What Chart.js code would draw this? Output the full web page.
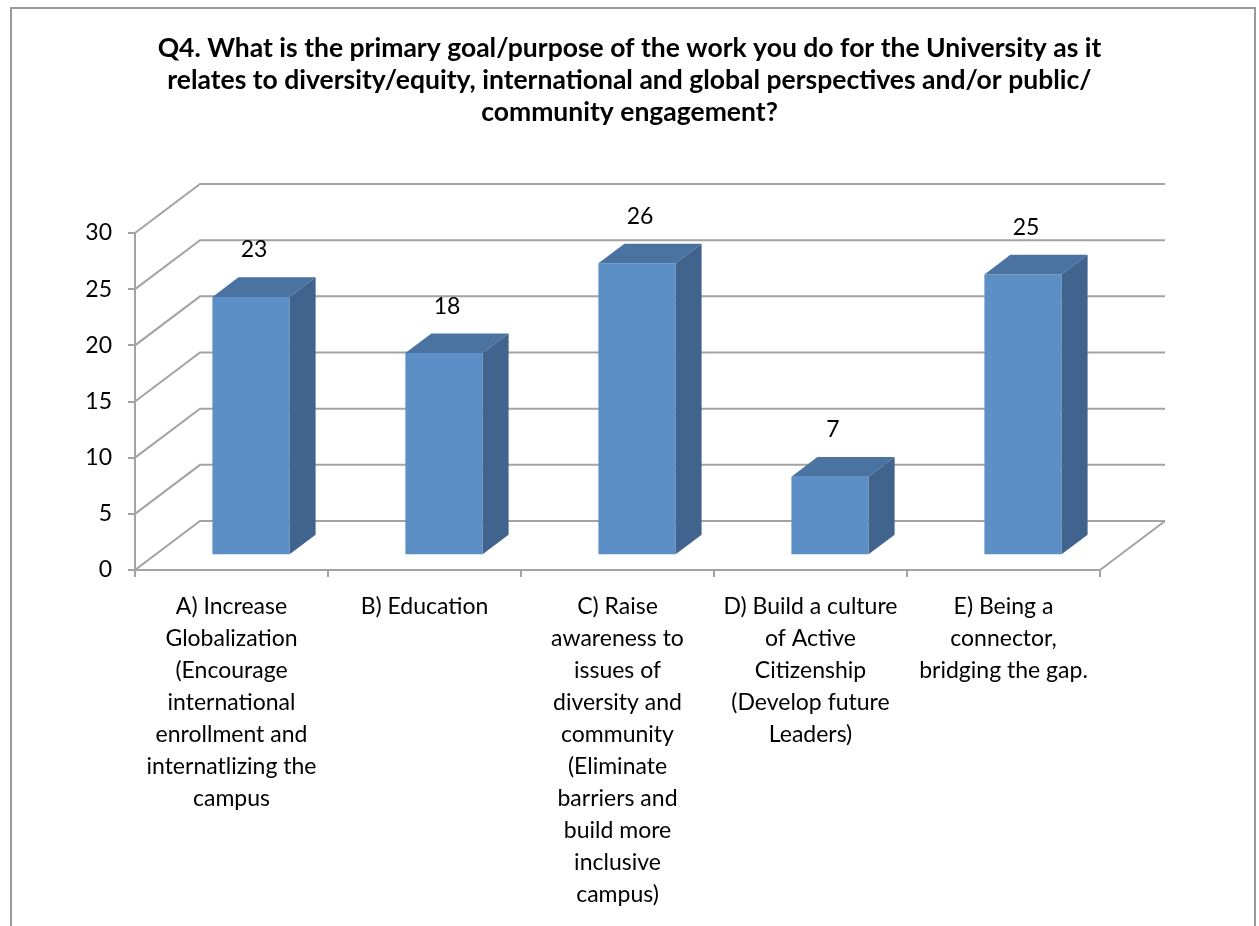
<!DOCTYPE html>
<html>
<head>
<meta charset="utf-8">
<title>Q4 primary goal/purpose</title>
<script src="https://cdn.jsdelivr.net/npm/chart.js@4/dist/chart.umd.min.js"></script>
<style>
  html, body { margin: 0; padding: 0; background: #ffffff; }
  #wrap { width: 1259px; height: 926px; position: relative; }
</style>
</head>
<body>
<div id="wrap"><canvas id="chart" width="1259" height="926"></canvas></div>
<script>
// Survey answers, one column per goal
const categories = [
  ['A) Increase', 'Globalization', '(Encourage', 'international', 'enrollment and', 'internatlizing the', 'campus'],
  ['B) Education'],
  ['C) Raise', 'awareness to', 'issues of', 'diversity and', 'community', '(Eliminate', 'barriers and', 'build more', 'inclusive', 'campus)'],
  ['D) Build a culture', 'of Active', 'Citizenship', '(Develop future', 'Leaders)'],
  ['E) Being a', 'connector,', 'bridging the gap.']
];
const responses = [23, 18, 26, 7, 25];
const yTicks = [0, 5, 10, 15, 20, 25, 30];
const titleLines = [
  'Q4. What is the primary goal/purpose of the work you do for the University as it',
  'relates to diversity/equity, international and global perspectives and/or public/',
  'community engagement?'
];

// 3D look: depth of the floor/walls, and where the columns sit inside it
const DEPTH_X = 65, DEPTH_Y = -49;
const BAR_FRONT = 0.3, BAR_DEPTH = 0.4;
const GRID_COLOR = '#a3a3a3';
const FRONT_COLOR = '#5b8fc5';
const TOP_COLOR = '#4a73a2';
const SIDE_COLOR = '#41648e';
const FONT = 'Lato, "Open Sans", "DejaVu Sans", sans-serif';

const walls = {
  id: 'walls',
  beforeDatasetsDraw(chart) {
    const { ctx, chartArea: a, scales: { y } } = chart;
    ctx.save();
    ctx.strokeStyle = GRID_COLOR;
    ctx.lineWidth = 2;
    ctx.lineCap = 'butt';
    ctx.beginPath();
    yTicks.forEach(v => {
      const py = y.getPixelForValue(v);
      // side wall diagonal
      ctx.moveTo(a.left, py);
      ctx.lineTo(a.left + DEPTH_X, py + DEPTH_Y);
      // back wall gridline
      ctx.lineTo(a.right + DEPTH_X, py + DEPTH_Y);
    });
    // floor right edge
    const base = y.getPixelForValue(0);
    ctx.moveTo(a.right, base);
    ctx.lineTo(a.right + DEPTH_X, base + DEPTH_Y);
    ctx.stroke();
    ctx.restore();

    // columns are drawn in the middle of the floor depth
    ctx.save();
    ctx.translate(DEPTH_X * BAR_FRONT, DEPTH_Y * BAR_FRONT);
  },
  afterDatasetsDraw(chart) {
    const { ctx } = chart;
    ctx.restore();
    const meta = chart.getDatasetMeta(0);
    const ox = DEPTH_X * BAR_FRONT, oy = DEPTH_Y * BAR_FRONT;
    const dx = DEPTH_X * BAR_DEPTH, dy = DEPTH_Y * BAR_DEPTH;
    ctx.save();
    meta.data.forEach((bar, i) => {
      const { x, y, base, width } = bar.getProps(['x', 'y', 'base', 'width'], true);
      const l = x - width / 2 + ox, r = x + width / 2 + ox;
      const t = y + oy, b = base + oy;
      // top face
      ctx.fillStyle = TOP_COLOR;
      ctx.beginPath();
      ctx.moveTo(l, t);
      ctx.lineTo(l + dx, t + dy);
      ctx.lineTo(r + dx, t + dy);
      ctx.lineTo(r, t);
      ctx.closePath();
      ctx.fill();
      // right side face
      ctx.fillStyle = SIDE_COLOR;
      ctx.beginPath();
      ctx.moveTo(r, t);
      ctx.lineTo(r + dx, t + dy);
      ctx.lineTo(r + dx, b + dy);
      ctx.lineTo(r, b);
      ctx.closePath();
      ctx.fill();
      // value label
      ctx.fillStyle = '#000000';
      ctx.font = '23px ' + FONT;
      ctx.textAlign = 'center';
      ctx.textBaseline = 'middle';
      ctx.fillText(String(responses[i]), x + ox + 3, t - 47);
    });
    ctx.restore();
  },
  afterDraw(chart) {
    // chart frame (open at the bottom)
    const { ctx } = chart;
    ctx.save();
    ctx.strokeStyle = '#9a9a9a';
    ctx.lineWidth = 2;
    ctx.beginPath();
    ctx.moveTo(11, 930);
    ctx.lineTo(11, 8);
    ctx.lineTo(1255, 8);
    ctx.lineTo(1255, 930);
    ctx.stroke();
    ctx.restore();
  }
};

new Chart(document.getElementById('chart'), {
  type: 'bar',
  data: {
    labels: categories,
    datasets: [{
      data: responses,
      backgroundColor: FRONT_COLOR,
      borderWidth: 0,
      categoryPercentage: 1,
      barPercentage: 0.4,
      clip: false
    }]
  },
  plugins: [walls],
  options: {
    responsive: false,
    animation: false,
    devicePixelRatio: 1,
    layout: { padding: 0 },
    plugins: {
      legend: { display: false },
      tooltip: { enabled: false },
      title: {
        display: true,
        text: titleLines,
        color: '#000000',
        font: { family: FONT, size: 26.5, weight: 'bold', lineHeight: 32 / 26.5 },
        padding: { top: 32, bottom: 105 }
      }
    },
    scales: {
      x: {
        grid: {
          display: true,
          offset: true,
          drawOnChartArea: false,
          drawTicks: true,
          tickLength: 7,
          color: GRID_COLOR,
          lineWidth: 2
        },
        border: { display: true, color: GRID_COLOR, width: 2 },
        ticks: {
          color: '#000000',
          padding: 14,
          maxRotation: 0,
          autoSkip: false,
          font: { family: FONT, size: 23, lineHeight: 32 / 23 }
        },
        afterFit(scale) { scale.height = 356; }
      },
      y: {
        min: 0,
        max: 30,
        grid: {
          display: true,
          drawOnChartArea: false,
          drawTicks: true,
          tickLength: 7,
          color: GRID_COLOR,
          lineWidth: 2
        },
        border: { display: true, color: GRID_COLOR, width: 2 },
        ticks: {
          stepSize: 5,
          color: '#000000',
          padding: 16,
          font: { family: FONT, size: 23 }
        },
        afterFit(scale) { scale.width = 135; }
      },
      // empty margin on the right that leaves room for the 3D depth
      depthMargin: {
        type: 'linear',
        position: 'right',
        display: true,
        grid: { display: false },
        border: { display: false },
        ticks: { display: false },
        afterFit(scale) { scale.width = 159; }
      }
    }
  }
});
</script>
</body>
</html>
